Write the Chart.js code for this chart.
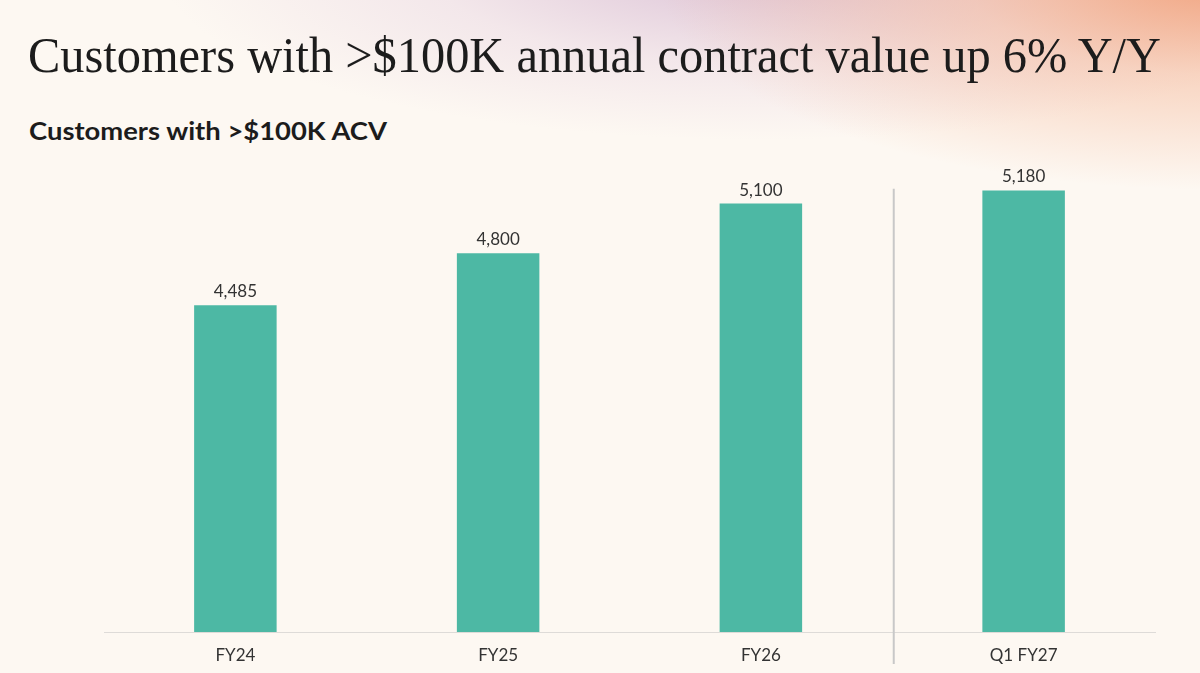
<!DOCTYPE html>
<html>
<head>
<meta charset="utf-8">
<script src="https://cdn.jsdelivr.net/npm/chart.js@4.4.1/dist/chart.umd.min.js"></script>
<style>
  html,body{margin:0;padding:0;}
  body{
    width:1200px;height:673px;overflow:hidden;position:relative;
    background:
      radial-gradient(ellipse 560px 210px at 1220px -20px, rgba(241,160,122,0.95), rgba(244,178,145,0.5) 45%, rgba(248,205,180,0) 100%),
      radial-gradient(ellipse 600px 170px at 760px -30px, rgba(214,185,210,0.85), rgba(225,200,220,0.35) 55%, rgba(230,210,225,0) 100%),
      #fdf8f2;
  }
  #c{position:absolute;left:0;top:0;}
  svg{position:absolute;left:0;top:0;}
</style>
</head>
<body>
<svg width="1200" height="160">
  <text x="28" y="71.5" font-family="Liberation Serif" font-size="51" fill="#1c1c1c" textLength="1133" lengthAdjust="spacingAndGlyphs">Customers with &gt;$100K annual contract value up 6% Y/Y</text>
  <text x="29" y="140" font-family="Lato" font-weight="bold" font-size="25" fill="#1c1c1c" textLength="358" lengthAdjust="spacingAndGlyphs">Customers with &gt;$100K ACV</text>
</svg>
<canvas id="c" width="1200" height="673"></canvas>
<script>
const categories = ['FY24', 'FY25', 'FY26', 'Q1 FY27'];
const customers = [4485, 4800, 5100, 5180];
const valueLabels = ['4,485', '4,800', '5,100', '5,180'];

const barColor = '#4db8a4';

const valueLabelPlugin = {
  id: 'valueLabels',
  afterDatasetsDraw(chart) {
    const ctx = chart.ctx;
    const meta = chart.getDatasetMeta(0);
    ctx.save();
    ctx.font = '17px Lato';
    ctx.fillStyle = '#333333';
    ctx.textAlign = 'center';
    ctx.textBaseline = 'alphabetic';
    meta.data.forEach((bar, i) => {
      ctx.fillText(valueLabels[i], bar.x, bar.y - 8);
    });
    ctx.restore();
  }
};

const separatorPlugin = {
  id: 'separator',
  afterDraw(chart) {
    const xs = chart.scales.x, ys = chart.scales.y;
    const x = (xs.getPixelForValue(2) + xs.getPixelForValue(3)) / 2 + 1.5;
    const ctx = chart.ctx;
    ctx.save();
    ctx.strokeStyle = '#c8c8c8';
    ctx.lineWidth = 2;
    ctx.beginPath();
    ctx.moveTo(x, ys.getPixelForValue(5190));
    ctx.lineTo(x, chart.chartArea.bottom + 32);
    ctx.stroke();
    ctx.restore();
  }
};

function draw() {
  new Chart(document.getElementById('c'), {
    type: 'bar',
    data: {
      labels: categories,
      datasets: [{
        data: customers,
        backgroundColor: barColor,
        borderWidth: 0,
        categoryPercentage: 1,
        barPercentage: 0.314
      }]
    },
    options: {
      responsive: false,
      animation: false,
      devicePixelRatio: 1,
      layout: { padding: { left: 104, right: 45, top: 154, bottom: 0 } },
      plugins: { legend: { display: false }, tooltip: { enabled: false } },
      scales: {
        x: {
          grid: { display: false, drawTicks: false },
          border: { display: true, color: '#dedbd8', width: 1 },
          ticks: { color: '#333333', font: { family: 'Lato', size: 17 }, padding: 13 },
          afterFit(scale) { scale.height = 41; }
        },
        y: {
          display: false,
          min: 2510,
          max: 5400
        }
      }
    },
    plugins: [valueLabelPlugin, separatorPlugin]
  });
}

Promise.all([
  document.fonts.load('17px Lato'),
  document.fonts.load('bold 25px Lato'),
  document.fonts.load('51px "Liberation Serif"')
]).then(draw, draw);
</script>
</body>
</html>
